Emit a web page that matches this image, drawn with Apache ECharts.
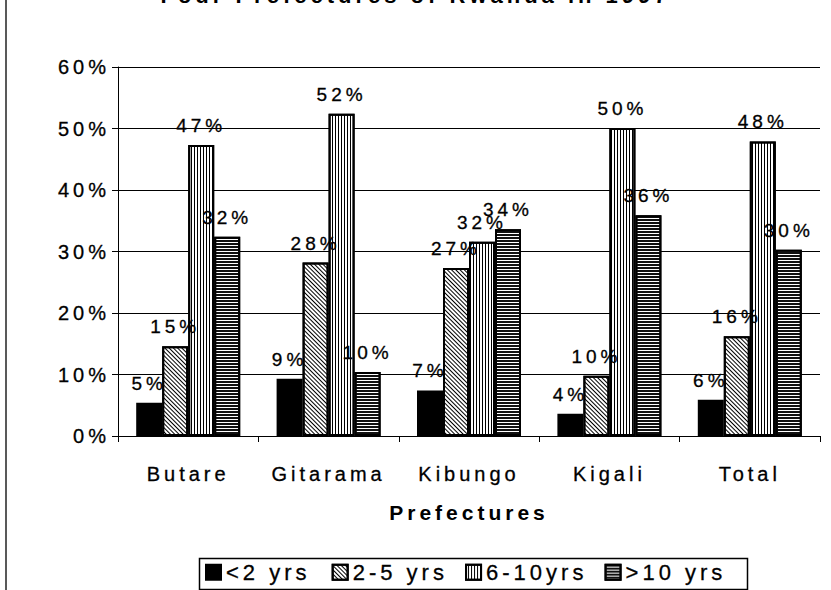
<!DOCTYPE html>
<html><head><meta charset="utf-8">
<script src="https://cdn.jsdelivr.net/npm/echarts@6/dist/echarts.min.js"></script>
<style>
html,body{margin:0;padding:0;background:#fff;}
#c{width:831px;height:590px;}
#c text{letter-spacing:4px;}
</style></head><body><div id="c"></div>
<script>
const categories = ['Butare', 'Gitarama', 'Kibungo', 'Kigali', 'Total'];
const seriesNames = ['<2 yrs', '2-5 yrs', '6-10yrs', '>10 yrs'];
const under2 = [5.4, 9.3, 7.4, 3.6, 5.9];
const y2to5 = [14.6, 28.2, 27.3, 9.8, 16.2];
const y6to10 = [47.3, 52.4, 31.6, 50.1, 47.9];
const over10 = [32.4, 10.4, 33.6, 35.9, 30.3];
const yMin = 0, yMax = 60, yStep = 10;
const titleText = 'Four Prefectures of Rwanda in 1997';
const xAxisName = 'Prefectures';

const FONT = '"Liberation Sans", Arial, sans-serif';
const thick = { textBorderColor: '#000', textBorderWidth: 0.3 };
const decals = [
  null,
  { symbol: 'rect', symbolSize: 1, dashArrayX: [1, 0], dashArrayY: [1, 2], rotation: Math.PI / 4, color: '#000' },
  { symbol: 'rect', symbolSize: 1, dashArrayX: [1, 0], dashArrayY: [1, 1.5], rotation: Math.PI / 2, color: '#000' },
  { symbol: 'rect', symbolSize: 1, dashArrayX: [1, 0], dashArrayY: [2, 1], rotation: 0, color: '#111' }
];
const seriesData = [under2, y2to5, y6to10, over10];

const chart = echarts.init(document.getElementById('c'), null, { renderer: 'svg' });
chart.setOption({
  backgroundColor: '#fff',
  animation: false,
  title: {
    text: titleText, left: 'center', top: -21,
    textStyle: { fontFamily: FONT, fontSize: 22, fontWeight: 'bold', color: '#000' }
  },
  grid: { left: 118, right: 11, top: 67, bottom: 154, containLabel: false },
  legend: {
    left: 205, top: 561, padding: 0, icon: 'rect', itemWidth: 15, itemHeight: 15, itemGap: 45,
    textStyle: Object.assign({ fontFamily: FONT, fontSize: 22, color: '#000' }, thick),
    data: seriesNames
  },
  graphic: [
    { type: 'rect', left: 197, top: 556, shape: { width: 548, height: 31 }, style: { fill: 'none', stroke: '#000', lineWidth: 1.5 }, z: 100 },
    { type: 'line', shape: { x1: 6, y1: 0, x2: 6, y2: 590 }, style: { stroke: '#222', lineWidth: 1.5 } }
  ],
  xAxis: {
    type: 'category', data: categories,
    name: xAxisName, nameLocation: 'middle', nameGap: 66,
    nameTextStyle: { fontFamily: FONT, fontSize: 21, fontWeight: 'bold', color: '#000' },
    axisLine: { lineStyle: { color: '#000', width: 1 } },
    axisTick: { show: true, length: 6, lineStyle: { color: '#000' } },
    axisLabel: Object.assign({ fontFamily: FONT, fontSize: 20, color: '#000', margin: 28 }, thick)
  },
  yAxis: {
    type: 'value', min: yMin, max: yMax, interval: yStep,
    axisLine: { show: true, lineStyle: { color: '#000', width: 1 } },
    axisTick: { show: true, length: 6, lineStyle: { color: '#000' } },
    splitLine: { lineStyle: { color: '#000', width: 1 } },
    axisLabel: Object.assign({ fontFamily: FONT, fontSize: 20, color: '#000', margin: 8, formatter: '{value}%' }, thick)
  },
  series: seriesNames.map((name, i) => ({
    name: name, type: 'bar', data: seriesData[i], barWidth: 26, barGap: '0%',
    itemStyle: {
      color: i === 0 ? '#000' : '#fff', borderColor: '#000', borderWidth: 2,
      decal: decals[i] || undefined
    },
    label: Object.assign({
      show: true, position: 'top', distance: 10,
      fontFamily: FONT, fontSize: 19, color: '#000',
      formatter: p => Math.round(p.value) + '%'
    }, thick)
  }))
});
</script></body></html>
